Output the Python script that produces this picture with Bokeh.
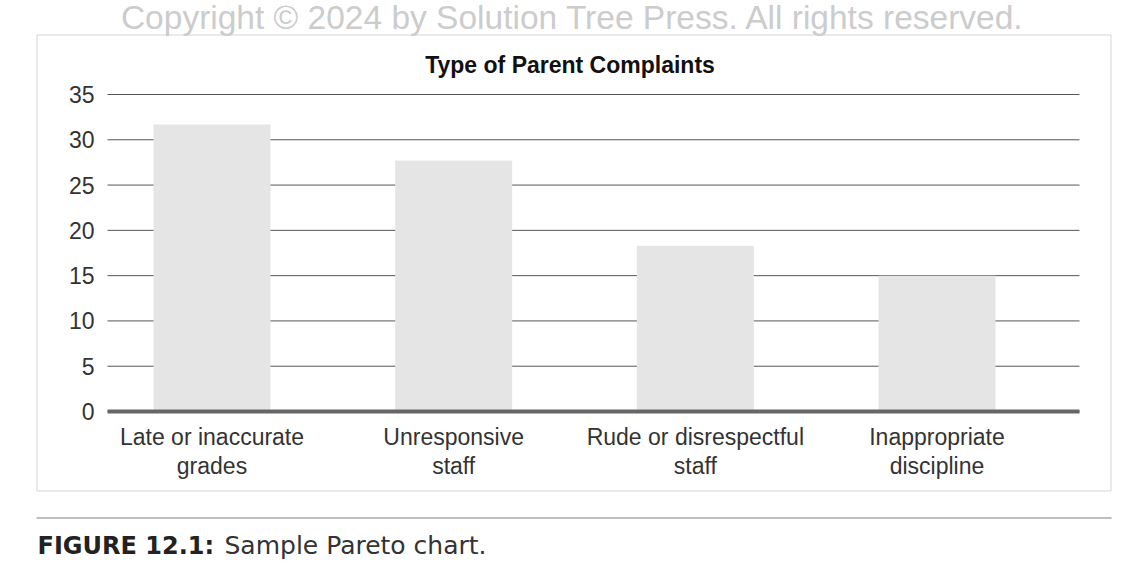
from bokeh.plotting import figure
from bokeh.models import Range1d, FixedTicker, Label, BoxAnnotation
from bokeh.embed import file_html
from bokeh.resources import INLINE

# ---- data ----
categories = ["Late or inaccurate\ngrades", "Unresponsive\nstaff",
              "Rude or disrespectful\nstaff", "Inappropriate\ndiscipline"]
complaints = [31.7, 27.7, 18.3, 15.0]
y_ticks = [0, 5, 10, 15, 20, 25, 30, 35]
title_text = "Type of Parent Complaints"
copyright_text = "Copyright \u00a9 2024 by Solution Tree Press. All rights reserved."
caption_bold = "FIGURE 12.1:"
caption_text = "Sample Pareto chart."

positions = list(range(len(categories)))

# ---- layout (pixels) ----
W, H = 1131, 562
PLOT_L, PLOT_R = 107, 1079          # horizontal extent of grid lines
Y0_PX, YTOP_PX = 411, 94            # pixel rows of value 0 and of top tick
CAT0_PX, CAT_STEP_PX = 211.5, 241.67

y_per_px = (y_ticks[-1] - y_ticks[0]) / (Y0_PX - YTOP_PX)
x_per_px = 1.0 / CAT_STEP_PX
x_start = (0 - CAT0_PX) * x_per_px
x_end = (W - CAT0_PX) * x_per_px
y_start = y_ticks[0] - (H - Y0_PX) * y_per_px
y_end = y_ticks[0] + Y0_PX * y_per_px
chart_left = (PLOT_L - CAT0_PX) * x_per_px
chart_right = (PLOT_R - CAT0_PX) * x_per_px

p = figure(width=W, height=H, output_backend="svg", toolbar_location=None,
           x_range=Range1d(x_start, x_end), y_range=Range1d(y_start, y_end),
           min_border=0, min_border_left=0, min_border_right=0,
           min_border_top=0, min_border_bottom=0)
p.outline_line_color = None
p.background_fill_color = "white"
p.border_fill_color = "white"
p.grid.visible = False

# horizontal grid lines (limited to the plot area)
p.segment(x0=[chart_left] * len(y_ticks), x1=[chart_right] * len(y_ticks),
          y0=y_ticks, y1=y_ticks, line_color="#555555", line_width=1)

p.vbar(x=positions, top=complaints, width=117 * x_per_px, bottom=0,
       fill_color="#e5e5e5", line_color=None)

# y axis
p.yaxis.fixed_location = chart_left
p.yaxis.ticker = FixedTicker(ticks=y_ticks)
p.yaxis.axis_line_color = None
p.yaxis.major_tick_line_color = None
p.yaxis.minor_tick_line_color = None
p.yaxis.major_tick_out = 0
p.yaxis.major_tick_in = 0
p.yaxis.major_label_standoff = 13
p.yaxis.major_label_text_font = "Liberation Sans"
p.yaxis.major_label_text_font_size = "23px"
p.yaxis.major_label_text_color = "#333333"

# x axis (thick zero line)
p.xaxis.fixed_location = 0
p.xaxis.bounds = (chart_left, chart_right)
p.xaxis.ticker = FixedTicker(ticks=positions)
p.xaxis.major_label_overrides = {i: c for i, c in zip(positions, categories)}
p.xaxis.axis_line_color = "#666666"
p.xaxis.axis_line_width = 4
p.xaxis.major_tick_line_color = None
p.xaxis.minor_tick_line_color = None
p.xaxis.major_tick_out = 0
p.xaxis.major_tick_in = 0
p.xaxis.major_label_standoff = 12
p.xaxis.major_label_text_font = "Liberation Sans"
p.xaxis.major_label_text_font_size = "23px"
p.xaxis.major_label_text_color = "#333333"
p.xaxis.major_label_text_line_height = 1.13

# outer box around chart
p.add_layout(BoxAnnotation(left=36.5, right=1110.5, top=34.5, bottom=490.5,
                           left_units="canvas", right_units="canvas",
                           top_units="canvas", bottom_units="canvas",
                           fill_color=None, line_color="#707070", line_width=1))
# horizontal rule above caption
p.add_layout(BoxAnnotation(left=36, right=1111, top=517, bottom=518,
                           left_units="canvas", right_units="canvas",
                           top_units="canvas", bottom_units="canvas",
                           fill_color="#808080", fill_alpha=1.0, line_color=None))

p.add_layout(Label(x=569.5, y=64, x_units="canvas", y_units="canvas",
                   text=title_text, text_align="center", text_baseline="alphabetic",
                   text_font="Liberation Sans", text_font_style="bold",
                   text_font_size="23px", text_color="#111111"))

p.add_layout(Label(x=572.5, y=17, x_units="canvas", y_units="canvas",
                   text=copyright_text, text_align="center", text_baseline="alphabetic",
                   text_font="Liberation Sans", text_font_size="33.5px",
                   text_color="#cccccc"))

p.add_layout(Label(x=37, y=545, x_units="canvas", y_units="canvas",
                   text=caption_bold, text_align="left", text_baseline="alphabetic",
                   text_font="DejaVu Sans", text_font_style="bold",
                   text_font_size="24px", text_color="#222222"))
p.add_layout(Label(x=224, y=545, x_units="canvas", y_units="canvas",
                   text=caption_text, text_align="left", text_baseline="alphabetic",
                   text_font="DejaVu Sans", text_font_size="25px",
                   text_color="#333333"))

open("out.html", "w").write(file_html(p, INLINE))
